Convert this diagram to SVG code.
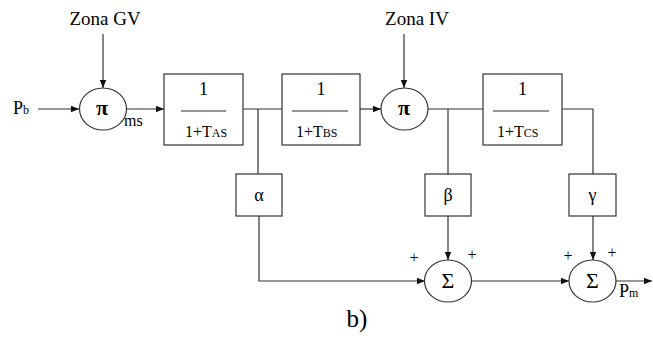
<svg xmlns="http://www.w3.org/2000/svg" width="653" height="338" viewBox="0 0 653 338">
<style>
text{font-family:"Liberation Serif","Times New Roman",serif;fill:#000}
.ln{fill:none;stroke:#333;stroke-width:1.2}
.bx{fill:#fff;stroke:#333;stroke-width:1.2}
.t16{font-size:16px}
.t18{font-size:18px}
.t19{font-size:19px}
.pi{font-size:22px;font-weight:bold}
.sg{font-size:22px}
.sm{font-size:12px}
.c{text-anchor:middle}
</style>
<defs>
<marker id="ah" viewBox="0 0 10 10" refX="10" refY="5" markerWidth="8" markerHeight="8" markerUnits="userSpaceOnUse" orient="auto">
<path d="M0,1 L10,5 L0,9 Z" fill="#111"/>
</marker>
</defs>
<g id="connectors">
<path class="ln" d="M38,109 H79" marker-end="url(#ah)"/>
<path class="ln" d="M103,34 V88" marker-end="url(#ah)"/>
<path class="ln" d="M126,109 H164" marker-end="url(#ah)"/>
<path class="ln" d="M243,109 H282"/>
<path class="ln" d="M258,109 V174"/>
<path class="ln" d="M360,109 H381" marker-end="url(#ah)"/>
<path class="ln" d="M404,34 V88" marker-end="url(#ah)"/>
<path class="ln" d="M428,109 H483"/>
<path class="ln" d="M448,109 V174"/>
<path class="ln" d="M562,109 H593 V174"/>
<path class="ln" d="M259,216 V281 H425" marker-end="url(#ah)"/>
<path class="ln" d="M448,216 V260" marker-end="url(#ah)"/>
<path class="ln" d="M471,281 H569" marker-end="url(#ah)"/>
<path class="ln" d="M593,216 V260" marker-end="url(#ah)"/>
<path class="ln" d="M616,281 H652" marker-end="url(#ah)"/>
</g>
<g id="zonaGV"><text class="t19 c" x="105" y="25">Zona GV</text></g>
<g id="zonaIV"><text class="t19 c" x="417" y="25">Zona IV</text></g>
<g id="Pb"><text class="t18" x="13" y="114">P<tspan class="sm">b</tspan></text></g>
<g id="pi1">
<ellipse cx="103" cy="109" rx="23.5" ry="21" class="bx"/>
<text class="pi c" x="102" y="115">π</text>
<text class="t16" x="124" y="126">ms</text>
</g>
<g id="boxA">
<rect x="164" y="74" width="79" height="71" class="bx"/>
<text class="t18 c" x="203.5" y="95">1</text>
<line x1="181" y1="111" x2="226" y2="111" class="ln"/>
<text class="t16" x="185" y="137">1+T<tspan class="sm">AS</tspan></text>
</g>
<g id="boxB">
<rect x="282" y="74" width="78" height="71" class="bx"/>
<text class="t18 c" x="321" y="95">1</text>
<line x1="292" y1="111" x2="348" y2="111" class="ln"/>
<text class="t16" x="296" y="137">1+T<tspan class="sm">BS</tspan></text>
</g>
<g id="pi2">
<ellipse cx="404.5" cy="109" rx="23.5" ry="21" class="bx"/>
<text class="pi c" x="404" y="115">π</text>
</g>
<g id="boxC">
<rect x="483" y="74" width="79" height="71" class="bx"/>
<text class="t18 c" x="522.5" y="95">1</text>
<line x1="493" y1="111" x2="549" y2="111" class="ln"/>
<text class="t16" x="497" y="137">1+T<tspan class="sm">CS</tspan></text>
</g>
<g id="alpha">
<rect x="236" y="174" width="46" height="42" class="bx"/>
<text class="t18 c" x="259" y="201">α</text>
</g>
<g id="beta">
<rect x="425" y="174" width="46" height="42" class="bx"/>
<text class="t18 c" x="448" y="201">β</text>
</g>
<g id="gamma">
<rect x="569" y="174" width="47" height="42" class="bx"/>
<text class="t18 c" x="592.5" y="201">γ</text>
</g>
<g id="sum1">
<ellipse cx="448" cy="281" rx="23.5" ry="21" class="bx"/>
<text class="sg c" x="448" y="288">Σ</text>
<text class="t16 c" x="414" y="263">+</text>
<text class="t16 c" x="472" y="260">+</text>
</g>
<g id="sum2">
<ellipse cx="592.5" cy="281" rx="23.5" ry="21" class="bx"/>
<text class="sg c" x="592.5" y="288">Σ</text>
<text class="t16 c" x="568" y="261">+</text>
<text class="t16 c" x="612" y="258">+</text>
</g>
<g id="Pm"><text class="t18" x="619" y="297">P<tspan class="sm">m</tspan></text></g>
<g id="label"><text class="c" style="font-size:25px" x="357" y="327">b)</text></g>
</svg>
